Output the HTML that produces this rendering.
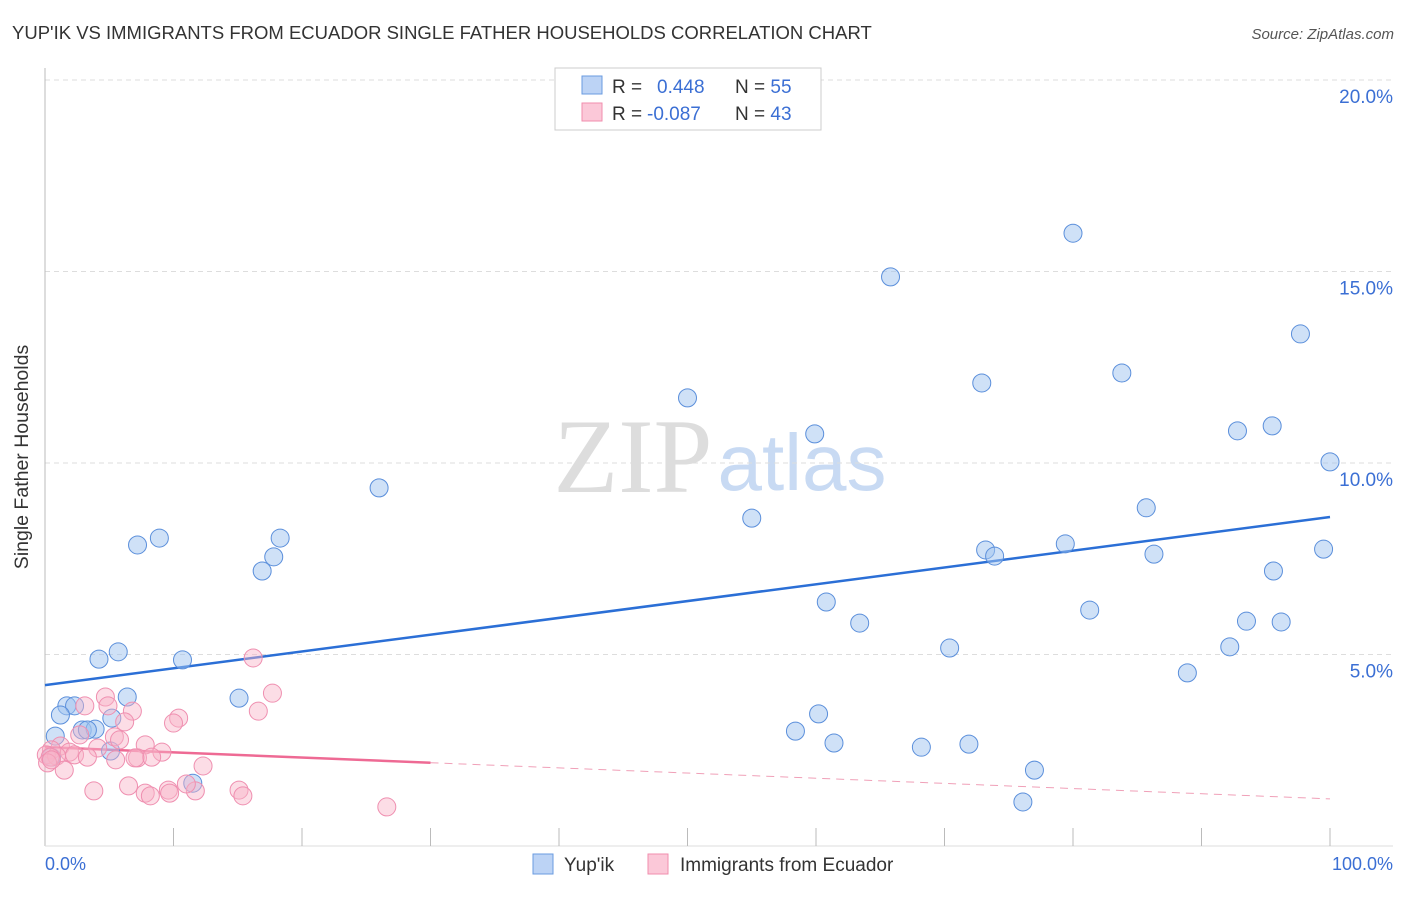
<!DOCTYPE html>
<html><head><meta charset="utf-8"><style>
body{margin:0;background:#fff;font-family:"Liberation Sans",sans-serif}
</style></head><body>
<svg width="1406" height="892" style="font-family:'Liberation Sans',sans-serif">
<text x="12" y="39" font-size="18.5" fill="#333">YUP'IK VS IMMIGRANTS FROM ECUADOR SINGLE FATHER HOUSEHOLDS CORRELATION CHART</text>
<text x="1394" y="39" font-size="15" fill="#555" text-anchor="end" font-style="italic">Source: ZipAtlas.com</text>
<g>
<text x="633" y="492" font-size="106" fill="#ddd" font-family="Liberation Serif,serif" text-anchor="middle">ZIP</text>
<text x="802" y="490" font-size="80" fill="#c8daf3" text-anchor="middle">atlas</text>
</g>
<g id="grid"></g>
<line x1="45" y1="68" x2="45" y2="846" stroke="#bbb"/>
<line x1="45" y1="846" x2="1393" y2="846" stroke="#ddd"/>
<g id="xticks"></g>
<text x="28" y="457" font-size="19.5" fill="#333" text-anchor="middle" transform="rotate(-90 28 457)">Single Father Households</text>
<text x="45" y="870" font-size="18" fill="#3b6fd4">0.0%</text>
<text x="1393" y="870" font-size="18" fill="#3b6fd4" text-anchor="end">100.0%</text>
<g id="lines"></g>
<g id="pts"></g>
<g>
<rect x="555" y="68" width="266" height="62" fill="#fff" stroke="#ccc"/>
<rect x="582" y="76" width="20" height="18" fill="#bcd3f5" stroke="#6a9be0"/>
<rect x="582" y="103" width="20" height="18" fill="#fbc8d8" stroke="#f08eae"/>
<text x="612" y="93" font-size="19" fill="#333">R = </text>
<text x="657" y="93" font-size="19" fill="#3b6fd4">0.448</text>
<text x="735" y="93" font-size="19" fill="#333">N = <tspan fill="#3b6fd4">55</tspan></text>
<text x="612" y="120" font-size="19" fill="#333">R = </text>
<text x="647" y="120" font-size="19" fill="#3b6fd4">-0.087</text>
<text x="735" y="120" font-size="19" fill="#333">N = <tspan fill="#3b6fd4">43</tspan></text>
</g>
<g>
<rect x="533" y="854" width="20" height="20" fill="#bcd3f5" stroke="#6a9be0"/>
<text x="564" y="871" font-size="19" fill="#333">Yup'ik</text>
<rect x="648" y="854" width="20" height="20" fill="#fbc8d8" stroke="#f08eae"/>
<text x="680" y="871" font-size="19" fill="#333">Immigrants from Ecuador</text>
</g>
</svg>
<script>
const yTicks=[5,10,15,20];
const yTickLabels=["5.0%","10.0%","15.0%","20.0%"];
const xTicks=[10,20,30,40,50,60,70,80,90,100];
const blueX=[80.0,65.8,97.7,72.9,83.8,50.0,59.9,92.8,95.5,100,26.0,55.0,85.7,7.2,8.9,18.3,17.8,16.9,73.2,73.9,79.4,86.3,99.5,95.6,60.8,81.3,63.4,93.5,96.2,70.4,92.2,4.2,5.7,10.7,88.9,6.4,15.1,1.7,2.3,1.2,5.2,58.4,60.2,2.9,3.9,3.3,0.8,61.4,68.2,71.9,5.1,0.5,77.0,11.5,76.1];
const blueY=[16.0,14.86,13.37,12.09,12.35,11.70,10.76,10.84,10.97,10.03,9.35,8.56,8.83,7.86,8.04,8.04,7.55,7.18,7.73,7.57,7.89,7.62,7.75,7.18,6.37,6.16,5.82,5.87,5.85,5.17,5.20,4.88,5.07,4.86,4.52,3.89,3.86,3.66,3.66,3.42,3.34,3.00,3.45,3.03,3.05,3.03,2.87,2.69,2.58,2.66,2.48,2.32,1.98,1.64,1.15];
const pinkX=[16.2,4.7,17.7,3.1,4.9,6.8,16.6,10.4,10.0,6.2,2.7,5.4,5.8,1.2,7.8,4.1,9.1,0.5,1.9,0.1,0.9,2.3,3.3,7.2,8.3,7.0,0.4,5.5,0.2,1.5,12.3,3.8,6.5,7.8,8.2,9.6,9.7,11.7,15.1,15.4,11.0,26.6,0.5];
const pinkY=[4.91,3.89,3.99,3.66,3.66,3.52,3.52,3.34,3.21,3.24,2.90,2.85,2.77,2.61,2.64,2.56,2.45,2.51,2.45,2.38,2.35,2.38,2.32,2.30,2.32,2.30,2.32,2.25,2.17,1.98,2.09,1.44,1.57,1.38,1.31,1.46,1.38,1.44,1.46,1.31,1.62,1.02,2.25];
const blueTrend=[4.2,8.59];
const pinkTrend=[2.58,1.23];
const pinkSolidEnd=30;
const X=v=>45+v*12.85, Y=v=>846-v*38.3;
const NS="http://www.w3.org/2000/svg";
function mk(t,a,p){const e=document.createElementNS(NS,t);for(const k in a)e.setAttribute(k,a[k]);document.getElementById(p).appendChild(e);return e;}
yTicks.forEach((t,i)=>{
 const l=mk('line',{x1:45,x2:1393,y1:Y(t),y2:Y(t),stroke:'#ddd','stroke-dasharray':'5,4'},'grid');
 
 
 const tx=mk('text',{x:1393,y:Y(t)+23,'font-size':19,fill:'#3b6fd4','text-anchor':'end'},'grid');
 tx.textContent=yTickLabels[i];
 
 
});
xTicks.forEach(t=>{
 const l=mk('line',{x1:X(t),x2:X(t),y1:828,y2:846,stroke:'#bbb'},'xticks');
 
 
});
let bl=mk('line',{x1:X(0),y1:Y(blueTrend[0]),x2:X(100),y2:Y(blueTrend[1]),stroke:'#2b6fd6','stroke-width':2.5},'lines');


const pm=pinkTrend[0]+(pinkTrend[1]-pinkTrend[0])*pinkSolidEnd/100;
let pl=mk('line',{x1:X(0),y1:Y(pinkTrend[0]),x2:X(pinkSolidEnd),y2:Y(pm),stroke:'#ee6a94','stroke-width':2.5},'lines');


let pd=mk('line',{x1:X(pinkSolidEnd),y1:Y(pm),x2:X(100),y2:Y(pinkTrend[1]),stroke:'#f0a0b8','stroke-width':1,'stroke-dasharray':'8,6'},'lines');


blueX.forEach((x,i)=>{
 const c=mk('circle',{cx:X(x),cy:Y(blueY[i]),r:9,fill:'rgba(160,196,240,0.5)',stroke:'#5b8fdb','stroke-width':1},'pts');
 
 
});
pinkX.forEach((x,i)=>{
 const c=mk('circle',{cx:X(x),cy:Y(pinkY[i]),r:9,fill:'rgba(248,180,200,0.45)',stroke:'#ef8fb0','stroke-width':1},'pts');
 
 
});
</script>
</body></html>
